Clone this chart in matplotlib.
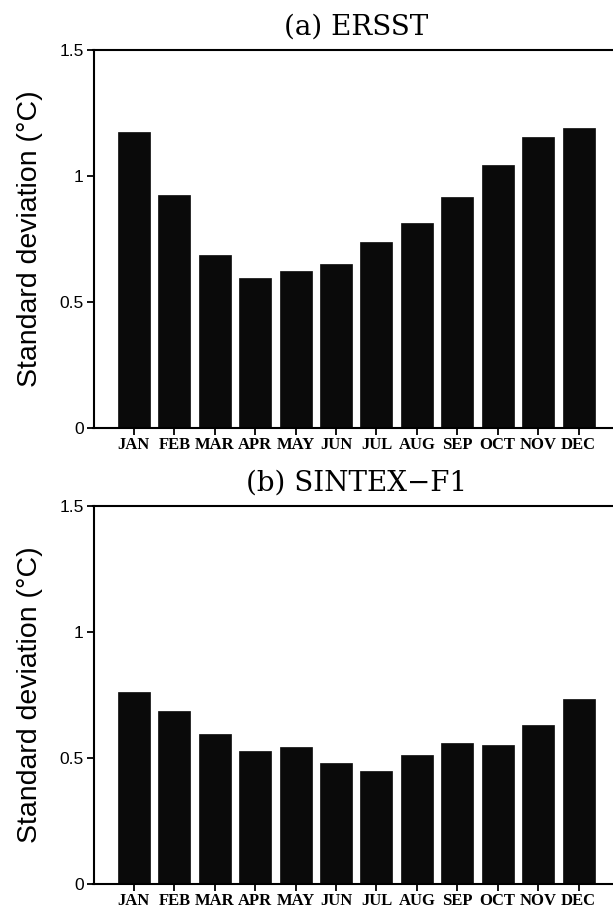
import matplotlib
matplotlib.use("Agg")
import matplotlib.pyplot as plt
import numpy as np

months = ["JAN", "FEB", "MAR", "APR", "MAY", "JUN", "JUL", "AUG", "SEP", "OCT", "NOV", "DEC"]
ersst = [1.174, 0.924, 0.685, 0.597, 0.622, 0.652, 0.738, 0.814, 0.916, 1.044, 1.154, 1.190]
sintex = [0.760, 0.688, 0.594, 0.529, 0.545, 0.479, 0.449, 0.510, 0.561, 0.550, 0.632, 0.735]
titles = ["(a) ERSST", "(b) SINTEX\u2212F1"]
yticks = [0, 0.5, 1, 1.5]
yticklabels = ["0", "0.5", "1", "1.5"]

W, H = 613, 911
fig = plt.figure(figsize=(W / 100, H / 100), dpi=100)

def px_axes(left, top, right, bottom):
    return fig.add_axes([left / W, 1 - bottom / H, (right - left) / W, (bottom - top) / H])

axes = [px_axes(93.5, 50, 619, 428), px_axes(93.5, 506, 619, 884)]

for ax, vals, title in zip(axes, [ersst, sintex], titles):
    x = np.arange(len(months))
    ax.bar(x, vals, width=0.79, color="#0a0a0a", edgecolor="#0a0a0a", linewidth=0.5)
    ax.set_xlim(-1, 12)
    ax.set_ylim(0, 1.5)
    ax.set_xticks(x)
    ax.set_xticklabels(months, family="Liberation Serif", fontweight="bold", fontsize=12)
    ax.set_yticks(yticks)
    ax.set_yticklabels(yticklabels, family="Liberation Sans", fontsize=12.5)
    ax.tick_params(direction="out", length=5, width=1.3, pad=2)
    ax.tick_params(axis="x", pad=1.5)
    for s in ["left", "bottom", "top"]:
        ax.spines[s].set_linewidth(1.5)
    ax.spines["right"].set_visible(False)
    ax.set_ylabel("Standard deviation (\u00b0C)", family="Liberation Sans", fontsize=20.5, labelpad=12)
    ax.set_title(title, family="DejaVu Serif", fontsize=20, pad=11)

fig.savefig("out.png", dpi=100)
